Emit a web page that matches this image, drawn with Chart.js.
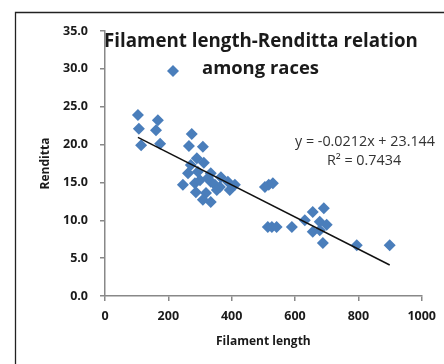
<!DOCTYPE html>
<html>
<head>
<meta charset="utf-8">
<script src="https://cdn.jsdelivr.net/npm/chart.js@4/dist/chart.umd.min.js"></script>
<style>
  html, body { margin: 0; padding: 0; background: #fff; }
  #wrap { position: relative; width: 444px; height: 364px; }
</style>
</head>
<body>
<div id="wrap"><canvas id="c" width="444" height="364"></canvas></div>
<script>
// Data
const filamentLength = [104, 167, 107, 161, 114, 174,
  274, 265, 309, 290, 312, 271, 262, 293, 334, 366, 388, 410, 246, 284, 334, 363, 287, 319, 309, 334, 300, 325, 347, 394, 353,
  505, 517, 530, 514, 527, 542, 590, 631, 656, 691, 678, 700, 656, 678, 688, 795, 899];
const renditta = [23.9, 23.2, 22.1, 21.9, 19.9, 20.1,
  21.4, 19.8, 19.7, 18.2, 17.6, 17.3, 16.2, 16.4, 16.2, 15.7, 15.1, 14.7, 14.7, 14.9, 15.1, 14.4, 13.7, 13.6, 12.7, 12.4, 15.3, 15.6, 14.7, 14.0, 14.0,
  14.4, 14.7, 14.9, 9.1, 9.1, 9.1, 9.1, 10.0, 11.1, 11.6, 9.8, 9.4, 8.5, 8.7, 7.0, 6.7, 6.7];
// Linear trendline y = -0.0212x + 23.144, endpoints at data range
const trendX = [104, 899];
const trendY = [20.94, 4.09];
const xTicks = [0, 200, 400, 600, 800, 1000];
const yTicks = [0, 5, 10, 15, 20, 25, 30, 35];
const titleLine1 = 'Filament length-Renditta relation';
const legendText = 'among races';
const eqLine1 = 'y = -0.0212x + 23.144';
const eqLine2 = 'R² = 0.7434';

const blue = '#4A7EBB';
const axisGray = '#888888';
const textCol = '#1a1a1a';

const points = filamentLength.map((x, i) => ({ x: x, y: renditta[i] }));
const trend = trendX.map((x, i) => ({ x: x, y: trendY[i] }));

function fitFont(ctx, text, weight, family, targetW) {
  ctx.font = weight + ' 100px ' + family;
  const w = ctx.measureText(text).width;
  return 100 * targetW / w;
}

const overlay = {
  id: 'overlay',
  afterDraw(chart) {
    const ctx = chart.ctx;
    ctx.save();
    // outer border (cropped frame)
    ctx.strokeStyle = '#222';
    ctx.lineWidth = 1.3;
    ctx.beginPath();
    ctx.moveTo(15.5, 364);
    ctx.lineTo(15.5, 12.5);
    ctx.lineTo(444, 12.5);
    ctx.stroke();

    const fam = '"Open Sans", "Liberation Sans", sans-serif';
    ctx.fillStyle = textCol;
    ctx.textBaseline = 'middle';
    ctx.textAlign = 'left';
    let fs = fitFont(ctx, titleLine1, 'bold', fam, 314);
    ctx.font = 'bold ' + fs.toFixed(2) + 'px ' + fam;
    ctx.fillText(titleLine1, 104, 42);
    fs = fitFont(ctx, legendText, 'bold', fam, 117);
    ctx.font = 'bold ' + fs.toFixed(2) + 'px ' + fam;
    ctx.fillText(legendText, 202, 69);
    // legend marker
    ctx.fillStyle = blue;
    ctx.beginPath();
    const mx = 173, my = 71, r = 6;
    ctx.moveTo(mx, my - r); ctx.lineTo(mx + r, my); ctx.lineTo(mx, my + r); ctx.lineTo(mx - r, my); ctx.closePath();
    ctx.fill();

    // equation
    ctx.fillStyle = '#333';
    ctx.textAlign = 'center';
    fs = fitFont(ctx, eqLine1, 'normal', fam, 140);
    ctx.font = 'normal ' + fs.toFixed(2) + 'px ' + fam;
    ctx.fillText(eqLine1, 365, 142);
    ctx.fillText(eqLine2, 364, 161);
    ctx.restore();
  }
};

const fontT = { family: '"Open Sans", sans-serif', size: 12.5, weight: 'bold' };
const fontB = { family: '"Open Sans", sans-serif', size: 12, weight: 'bold' };

new Chart(document.getElementById('c'), {
  type: 'scatter',
  data: {
    datasets: [
      {
        label: 'Trend',
        type: 'line',
        data: trend,
        borderColor: '#111',
        borderWidth: 1.5,
        pointRadius: 0,
        fill: false,
        order: 0
      },
      {
        label: legendText,
        data: points,
        pointStyle: 'rectRot',
        pointRadius: 6,
        pointHoverRadius: 6,
        backgroundColor: blue,
        borderColor: blue,
        borderWidth: 0,
        order: 1
      }
    ]
  },
  options: {
    responsive: false,
    animation: false,
    devicePixelRatio: 1,
    layout: { padding: { left: 38, top: 31, right: 22, bottom: 15 } },
    plugins: {
      legend: { display: false },
      title: { display: false },
      tooltip: { enabled: false }
    },
    scales: {
      x: {
        type: 'linear',
        min: 0, max: 1000,
        afterBuildTicks: (s) => { s.ticks = xTicks.map(v => ({ value: v })); },
        afterFit: (s) => { s.height = 53; },
        border: { color: axisGray, width: 1.5 },
        grid: { drawOnChartArea: false, drawTicks: true, tickLength: 5, color: axisGray, lineWidth: 1.5 },
        ticks: {
          padding: 8,
          color: textCol,
          font: fontT,
          callback: (v) => String(v)
        },
        title: {
          display: true,
          text: 'Filament length',
          color: textCol,
          font: fontB,
          padding: { top: 4, bottom: 0 }
        }
      },
      y: {
        type: 'linear',
        min: 0, max: 35,
        afterBuildTicks: (s) => { s.ticks = yTicks.map(v => ({ value: v })); },
        afterFit: (s) => { s.width = 67; },
        border: { color: axisGray, width: 1.5 },
        grid: { drawOnChartArea: false, drawTicks: true, tickLength: 5, color: axisGray, lineWidth: 1.5 },
        ticks: {
          padding: 12,
          color: textCol,
          font: fontT,
          callback: (v) => Number(v).toFixed(1)
        },
        title: {
          display: true,
          text: 'Renditta',
          color: textCol,
          font: fontB,
          padding: { top: 0, bottom: 0 }
        }
      }
    }
  },
  plugins: [overlay]
});
</script>
</body>
</html>
